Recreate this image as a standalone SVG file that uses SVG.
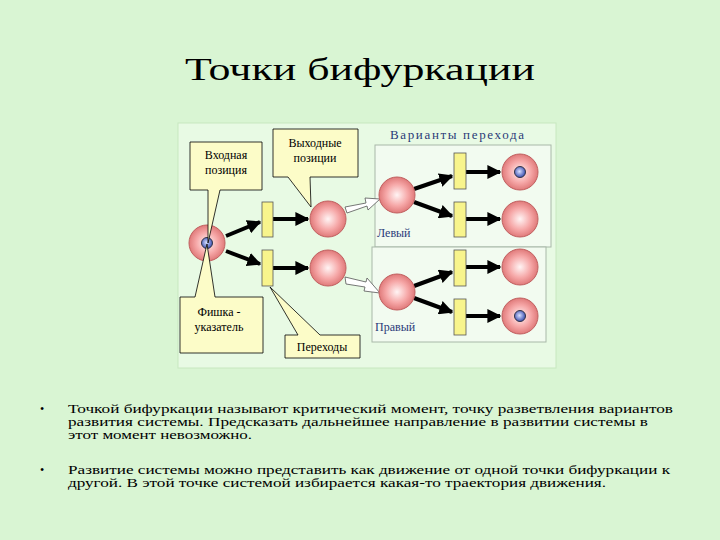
<svg xmlns="http://www.w3.org/2000/svg" width="720" height="540" viewBox="0 0 720 540">
<defs>
<radialGradient id="rg" cx="50%" cy="50%" r="50%"><stop offset="0" stop-color="#fff4f4"/><stop offset="0.6" stop-color="#f6a8a8"/><stop offset="1" stop-color="#e07a7a"/></radialGradient>
<radialGradient id="tk" cx="45%" cy="45%" r="55%"><stop offset="0" stop-color="#d8e0ff"/><stop offset="1" stop-color="#3a4fb0"/></radialGradient>
<marker id="ah" viewBox="0 0 10 10" refX="9" refY="5" markerWidth="3.5" markerHeight="3.5" orient="auto" markerUnits="strokeWidth"><path d="M0,0 L10,5 L0,10 z" fill="#000"/></marker>
</defs>
<style>
.pl{fill:url(#rg);stroke:#c06060;stroke-width:1}
.tr{fill:#f8f48c;stroke:#555;stroke-width:0.8}
.ar{stroke:#000;stroke-width:4;marker-end:url(#ah);fill:none}
.cb{fill:#fcfcc8;stroke:#000;stroke-width:0.8}
.t{font-family:"Liberation Serif",serif;font-size:12px;fill:#000}
.b{font-family:"Liberation Serif",serif;font-size:12px;fill:#000}
.ho{fill:#fff;stroke:#555;stroke-width:0.8}
</style>
<rect width="720" height="540" fill="#d9f5d3"/>
<text x="185" y="80" textLength="350" lengthAdjust="spacingAndGlyphs" font-family="Liberation Serif,serif" font-size="32">Точки бифуркации</text>
<rect x="178" y="123" width="378" height="245" fill="#e8fae4" stroke="#c8e8c0"/>
<rect x="375" y="145" width="176" height="102" fill="#f2fbf0" stroke="#a8b8a8"/>
<rect x="372" y="247" width="174" height="95" fill="#f2fbf0" stroke="#a8b8a8"/>
<text x="390" y="139" textLength="134" font-family="Liberation Serif,serif" font-size="13" fill="#2a3a78">Варианты перехода</text>
<text x="377" y="237" font-family="Liberation Serif,serif" font-size="12" fill="#2a3a78">Левый</text>
<text x="375" y="331" font-family="Liberation Serif,serif" font-size="12" fill="#2a3a78">Правый</text>
<g id="connectors">
<line class="ar" x1="226" y1="236" x2="260" y2="222"/>
<line class="ar" x1="226" y1="251" x2="260" y2="264"/>
<line class="ar" x1="273" y1="219" x2="308" y2="219"/>
<line class="ar" x1="273" y1="268" x2="308" y2="268"/>
<line class="ar" x1="414" y1="189" x2="452" y2="176"/>
<line class="ar" x1="414" y1="202" x2="452" y2="216"/>
<line class="ar" x1="466" y1="172" x2="500" y2="172"/>
<line class="ar" x1="466" y1="219" x2="500" y2="219"/>
<line class="ar" x1="414" y1="286" x2="452" y2="272"/>
<line class="ar" x1="414" y1="298" x2="452" y2="312"/>
<line class="ar" x1="466" y1="267" x2="500" y2="267"/>
<line class="ar" x1="466" y1="316" x2="500" y2="316"/>
<path class="ho" d="M345,207 L366,203 L365,198 L380,199 L368,210 L367,206 L347,213 z"/>
<path class="ho" d="M345,277 L366,282 L367,278 L380,293 L364,291 L365,287 L346,284 z"/>
</g>
<g id="nodes">
<circle id="p-in" class="pl" cx="207" cy="243" r="18"/>
<circle cx="207" cy="243" r="5.5" fill="url(#tk)" stroke="#334"/>
<rect id="t1" class="tr" x="262" y="202" width="11" height="35"/>
<rect id="t2" class="tr" x="262" y="250" width="11" height="36"/>
<circle id="p-o1" class="pl" cx="328" cy="219" r="18"/>
<circle id="p-o2" class="pl" cx="328" cy="268" r="18"/>
<circle class="pl" cx="397" cy="195" r="18"/>
<rect class="tr" x="454" y="153" width="12" height="36"/>
<rect class="tr" x="454" y="202" width="12" height="35"/>
<circle class="pl" cx="520" cy="172" r="18"/>
<circle cx="520" cy="172" r="5.5" fill="url(#tk)" stroke="#334"/>
<circle class="pl" cx="520" cy="219" r="18"/>
<circle class="pl" cx="397" cy="292" r="18"/>
<rect class="tr" x="454" y="250" width="12" height="36"/>
<rect class="tr" x="454" y="299" width="12" height="36"/>
<circle class="pl" cx="520" cy="267" r="18"/>
<circle class="pl" cx="520" cy="316" r="18"/>
<circle cx="520" cy="316" r="5.5" fill="url(#tk)" stroke="#334"/>
</g>
<g id="callout-in">
<path class="cb" d="M190,142 H262 V190 H220 L208,243 L208,190 H190 Z"/>
<text class="t" x="226" y="159" text-anchor="middle">Входная</text>
<text class="t" x="226" y="174" text-anchor="middle">позиция</text>
</g>
<g id="callout-out">
<path class="cb" d="M273,129 H358 V177 H310 L311,207 L288,177 H273 Z"/>
<text class="t" x="315" y="147" text-anchor="middle">Выходные</text>
<text class="t" x="315" y="162" text-anchor="middle">позиции</text>
</g>
<g id="callout-token">
<path class="cb" d="M180,297 H195 L207,244 L215,297 H263 V353 H180 Z"/>
<text class="t" x="219" y="316" text-anchor="middle">Фишка -</text>
<text class="t" x="219" y="331" text-anchor="middle">указатель</text>
</g>
<g id="callout-trans">
<path class="cb" d="M285,335 H298 L270,287 L320,335 H360 V358 H285 Z"/>
<text class="t" x="322" y="351" text-anchor="middle">Переходы</text>
</g>
<g id="bullets">
<text class="b" x="40" y="413">•</text>
<text class="b" x="68" y="413" textLength="605" lengthAdjust="spacingAndGlyphs">Точкой бифуркации называют критический момент, точку разветвления вариантов</text>
<text class="b" x="68" y="426" textLength="580" lengthAdjust="spacingAndGlyphs">развития системы. Предсказать дальнейшее направление в развитии системы в</text>
<text class="b" x="68" y="439" textLength="184" lengthAdjust="spacingAndGlyphs">этот момент невозможно.</text>
<text class="b" x="40" y="474">•</text>
<text class="b" x="68" y="474" textLength="602" lengthAdjust="spacingAndGlyphs">Развитие системы можно представить как движение от одной точки бифуркации к</text>
<text class="b" x="68" y="487" textLength="538" lengthAdjust="spacingAndGlyphs">другой. В этой точке системой избирается какая-то траектория движения.</text>
</g>
</svg>
